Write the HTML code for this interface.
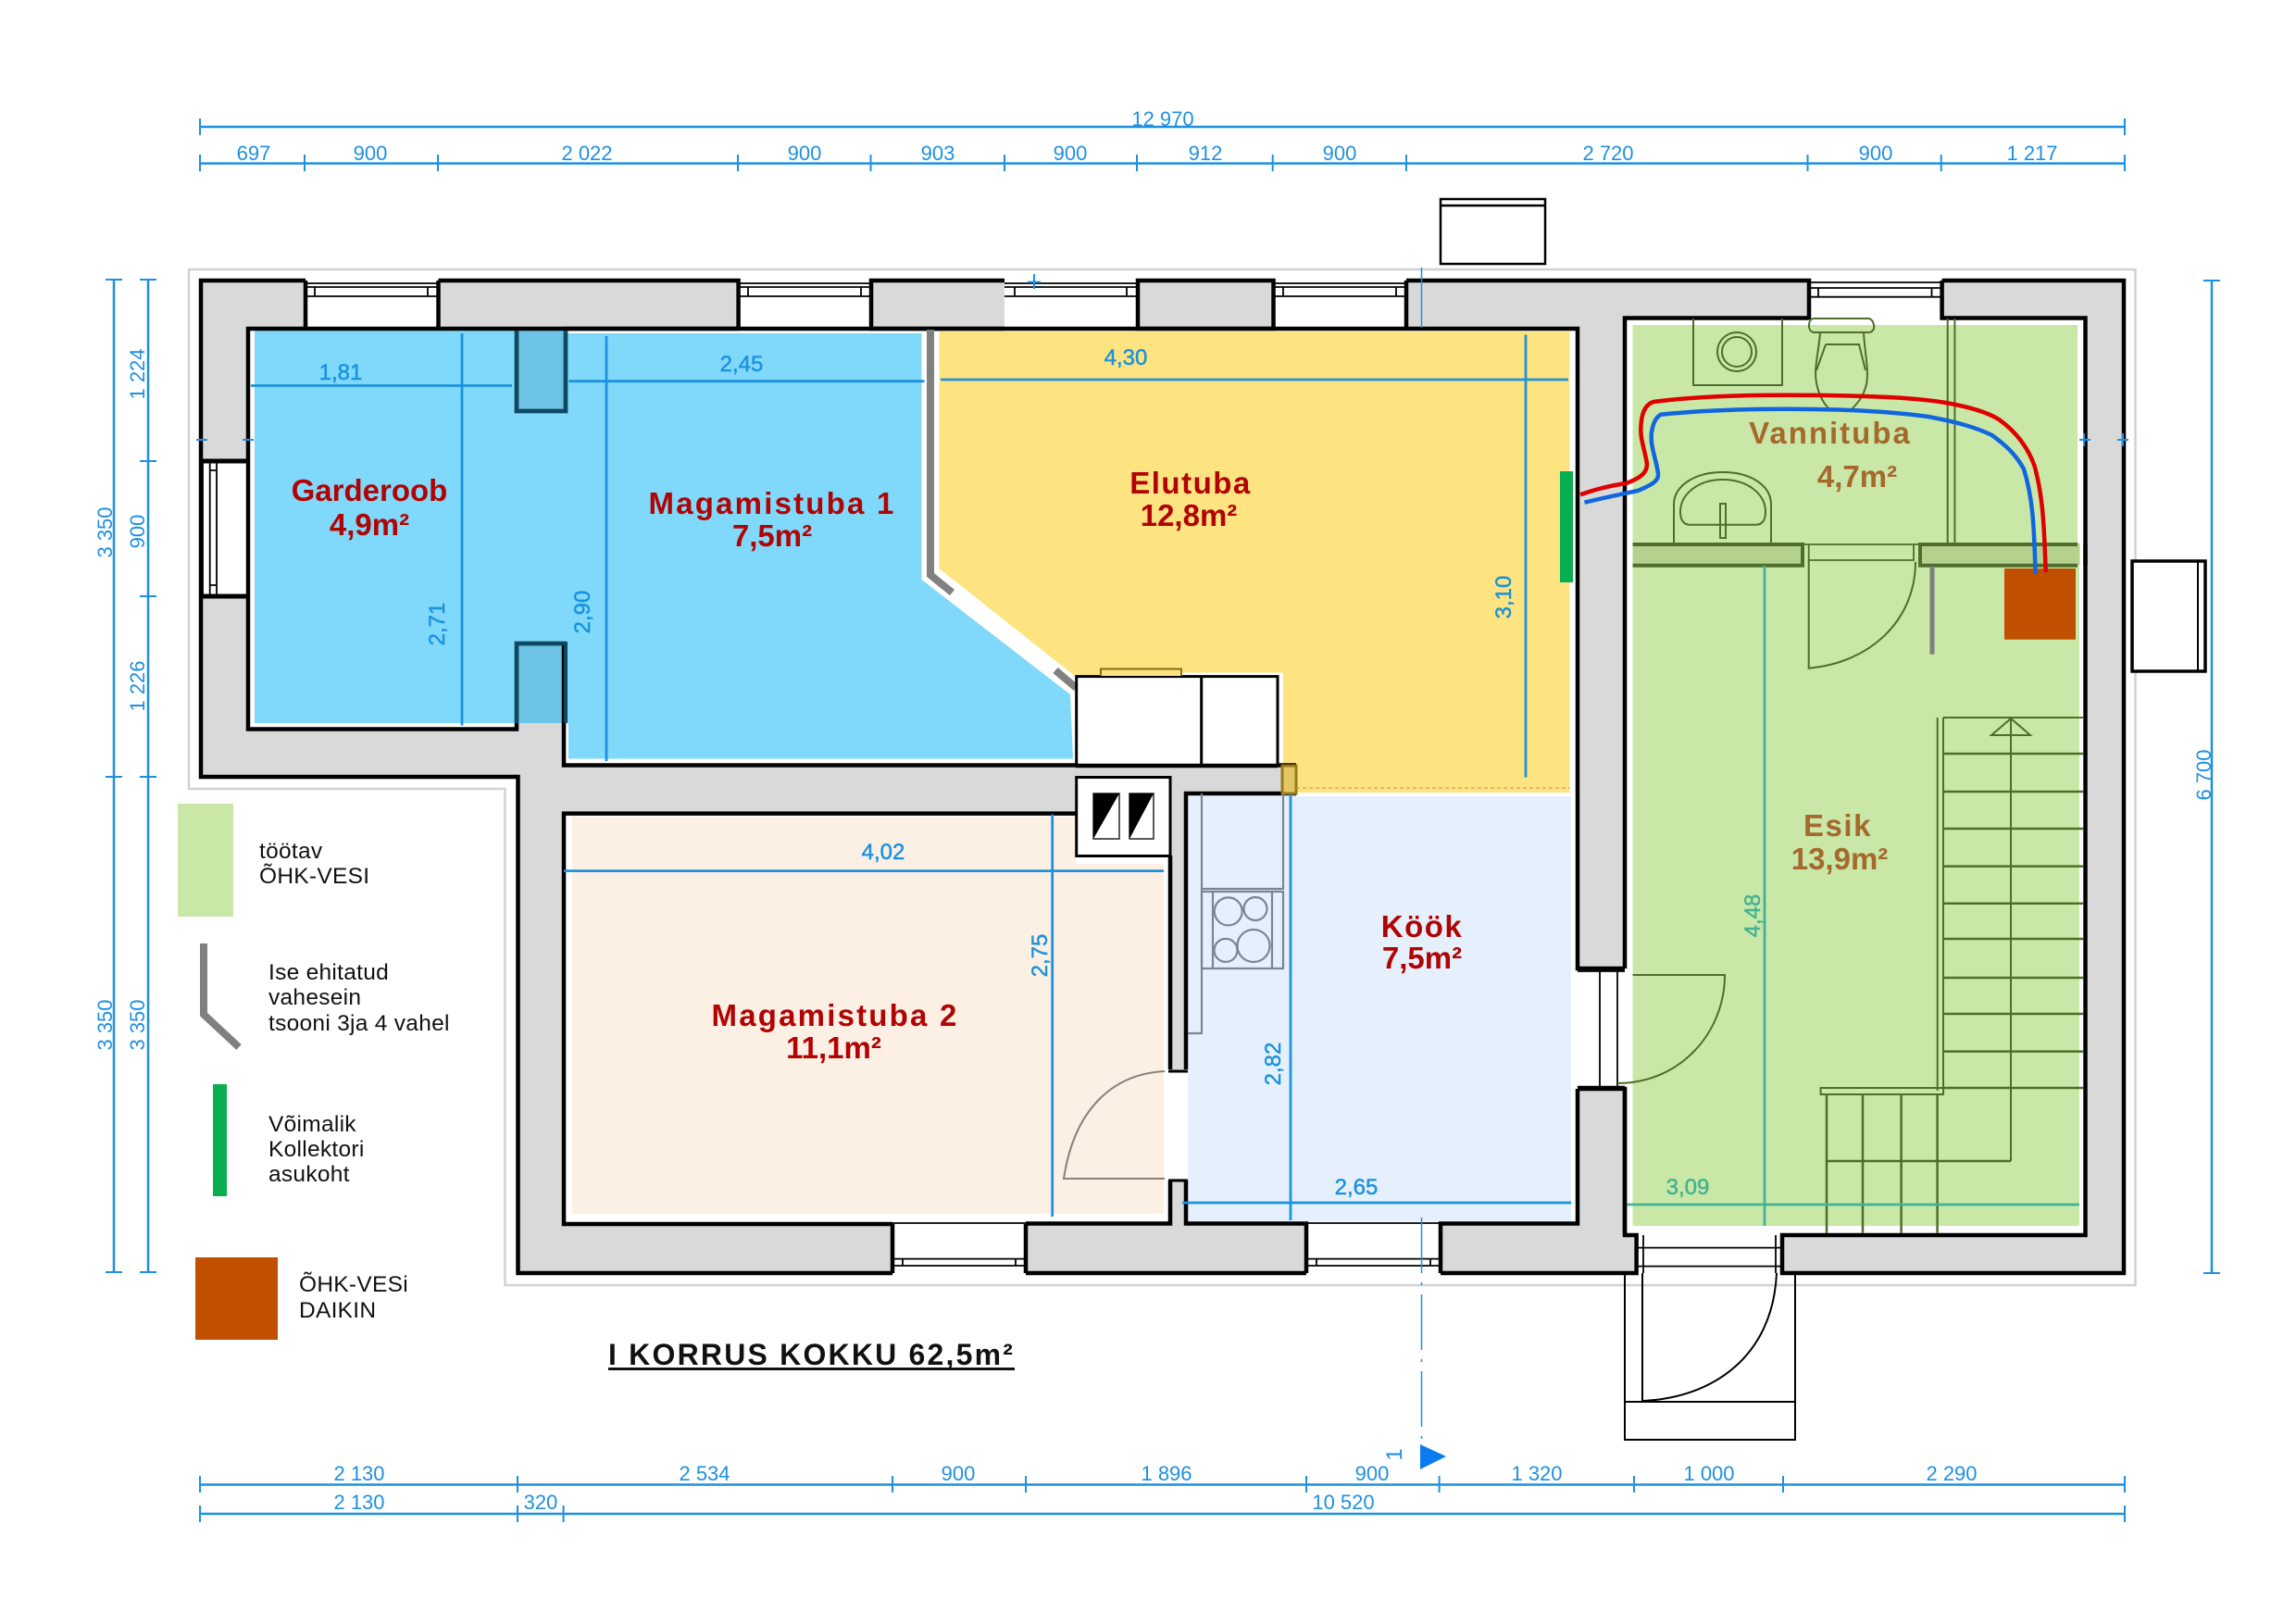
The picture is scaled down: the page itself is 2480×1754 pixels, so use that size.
<!DOCTYPE html>
<html><head><meta charset="utf-8"><title>I korrus</title>
<style>
html,body{margin:0;padding:0;background:#fff}
svg{display:block}
text{font-family:"Liberation Sans",sans-serif}
.d{font-size:22px;fill:#1f90e0;text-anchor:middle}
.r{font-size:24px;fill:#1b93dd;text-anchor:middle;stroke:#1b93dd;stroke-width:.5px}
.t{font-size:24px;fill:#45b293;text-anchor:middle;stroke:#45b293;stroke-width:.5px}
.n{font-size:33px;font-weight:bold;fill:#b00404;text-anchor:middle}
.b{font-size:33px;font-weight:bold;fill:#a5692c;text-anchor:middle}
.l{font-size:24.5px;fill:#111;letter-spacing:.28px}
</style></head><body>
<svg xmlns="http://www.w3.org/2000/svg" width="2480" height="1754" viewBox="0 0 2480 1754">
<rect width="2480" height="1754" fill="#fff"/>
<!-- site outline -->
<path d="M204 291H2306.500V1388H545.500V852H204Z" fill="#fff" stroke="#d2d2d2" stroke-width="2.500"/>
<!-- wall mass -->
<path d="M217 303H2294V1375H559.500V839H217Z" fill="#d9d9d9"/>
<!-- interiors white -->
<path d="M268 355H558V444H611V355H1704V1046H1755V343.500H2252.500V1334H1925V1375H1767.600V1334H1755V1176H1704V1321.500H1281V857H1400V826H609V695H558V787.500H268Z" fill="#fff"/>
<rect x="609" y="878.600" width="655" height="443.400" fill="#fff"/>
<rect x="1264" y="1157" width="17" height="116" fill="#fff"/>
<rect x="1704" y="1049" width="51" height="125" fill="#fff"/>
<!-- window openings -->
<g fill="#fff">
<rect x="330" y="303" width="143.500" height="53"/><rect x="797.600" y="303" width="143.400" height="53"/><rect x="1085" y="303" width="144" height="53"/><rect x="1375.500" y="303" width="143.500" height="53"/><rect x="1954" y="303" width="143.600" height="42"/>
<rect x="217" y="498" width="52" height="146"/>
<rect x="964" y="1321" width="144" height="54"/><rect x="1411" y="1321" width="145" height="54"/>
</g>
<!-- room colours -->
<path d="M275 357H558V444H611V360H995.500V626L1156 750L1159 819.500H614V781H275Z" fill="#80d8fa"/>
<path d="M1014.500 358H1695.500V856H1400V826H1386V726.500H1190V731H1162L1014.500 614Z" fill="#fee381"/>
<path d="M1162 731H1380.500V826H1162Z" fill="#fff"/>
<path d="M1283 860H1697V1319H1283Z" fill="#e6f0fd"/>
<path d="M618 882H1162V933H1257V1311H618Z" fill="#fcefe4"/>
<rect x="1763.500" y="351" width="480.500" height="235.700" fill="#c9e7a7"/>
<rect x="1763.500" y="610.700" width="482.500" height="713.300" fill="#c9e7a7"/>
<rect x="1763.500" y="586.700" width="483" height="24" fill="#b5d18e"/>
<rect x="1947" y="586.700" width="127" height="24" fill="#c9e7a7"/>
<!-- pillars -->
<rect x="558" y="357" width="53" height="87" fill="#6cc3e6"/>
<rect x="558" y="695" width="53" height="86" fill="#6cc3e6"/>
<!-- black walls -->
<g fill="none" stroke="#000" stroke-width="4.500" stroke-linejoin="miter">
<path d="M330 303H217V839H559.500V1375H964M1108 1375H1411M1556 1375H1767.600V1334H1755V1176"/>
<path d="M1085 303H941V355H1085" stroke-width="4.500"/>
<path d="M473.500 303H797.600V355M473.500 303V355M330 303V355"/>
<path d="M1229 303H1375.500V355H1229Z"/>
<path d="M1519 303H1954V345M1519 303V355M2097.600 303H2294V1375H1925V1334H2252.500V343.500H2097.600V303"/>
<path d="M268 498H217M268 644H217" stroke-width="5"/>
<path d="M797.600 355H268V787.500H558V695H609V826.500H1400"/>
<path d="M558 355V444H611V355H1704V1046H1755" stroke-width="4.500"/>
<path d="M1704 1176H1755V1334"/>
<path d="M1704 1176V1321.500H1556V1375M1411 1375V1321.500H1281V1275M1281 1155V857H1400"/>
<path d="M1755 1046V343.500H1954M1755 610.700V588"/>
<path d="M2252.500 588V610"/>
<path d="M964 1322H609V878.600H1163M964 1322V1375M1108 1322V1375M1108 1321.500H1264V1275M1264 1155V924"/>
</g>
<!-- dark pillar edges -->
<g fill="none" stroke="#0b4a62" stroke-width="4">
<path d="M558 357V444H611V357"/><path d="M558 781V695H611V781"/>
</g>
<!-- bath wall edges -->
<g fill="none" stroke="#4f6d2c" stroke-width="4">
<path d="M1763.500 588H1947V610.700H1763.500"/><path d="M2244 588H2074V610.700H2244"/>
</g>
<path d="M1953.700 588V605H2067V588M1953.700 605H2067M1947 588H2074" fill="none" stroke="#4f6d2c" stroke-width="1.800"/>
<!-- window detail lines -->
<g fill="none" stroke="#000" stroke-width="1.800">
<path d="M330 306H473.500M330 320H473.500M330 310H473.500M340 310V320M462 310V320M330 355H473.500"/>
<path d="M797.600 306H941M797.600 320H941M797.600 310H941M808 310V320M930 310V320M797.600 355H941"/>
<path d="M1085 306H1229M1085 320H1229M1085 310H1229M1096 310V320M1217 310V320M1085 355H1229"/>
<path d="M1375.500 306H1519M1375.500 320H1519M1375.500 310H1519M1386 310V320M1508 310V320M1375.500 355H1519"/>
<path d="M1954 305H2097M1954 320.700H2097M1954 311H2097M1964 311V320.700M2086.500 311V320.700"/>
<path d="M219 498V644M226.700 498V644M234 498V644M226.700 508H234M226.700 632H234"/>
<path d="M964 1321H1108M964 1359.600H1108M964 1367H1108M975 1359.600V1367M1097 1359.600V1367"/>
<path d="M1411 1321H1556M1411 1359.600H1556M1411 1367H1556M1422 1359.600V1367M1545 1359.600V1367"/>
<path d="M1767.600 1347.600H1925M1767.600 1367.600H1925M1775 1334V1375M1918 1334V1375"/>
<path d="M1728 1049V1174M1747 1049V1174M1704 1049H1755M1704 1173.600H1755"/>
</g>
<!-- self-built partition -->
<g fill="none" stroke="#808080" stroke-width="8">
<path d="M1005 356V621L1028.500 640"/><path d="M1140 724L1162.500 743"/>
</g>
<!-- kitchen block / flues -->
<g fill="#fff" stroke="#000" stroke-width="3">
<rect x="1162.700" y="730.600" width="217.300" height="96"/>
<rect x="1162.700" y="839.500" width="101.300" height="85"/>
</g>
<path d="M1297.700 730.600V826" stroke="#000" stroke-width="3"/>
<path d="M1189 730V722.500H1276V730" fill="#fee381" stroke="#8a6d10" stroke-width="2"/>
<path d="M1162 827H1380" stroke="#000" stroke-width="4.500"/>
<rect x="1181" y="857" width="28" height="49" fill="#fff" stroke="#222" stroke-width="1.500"/>
<path d="M1181 857H1209L1181 906Z" fill="#000"/>
<rect x="1220" y="857" width="26" height="49" fill="#fff" stroke="#222" stroke-width="1.500"/>
<path d="M1220 857H1246L1220 906Z" fill="#000"/>
<rect x="1385" y="827" width="15" height="30" fill="#e3c767" stroke="#9a7a16" stroke-width="3"/>
<path d="M1400 851H1696" stroke="#b99a44" stroke-width="1" stroke-dasharray="4 3"/>
<!-- kitchen furniture -->
<g fill="none" stroke="#7a8595" stroke-width="2.200">
<path d="M1298 857V1116H1283M1298 960H1386V857"/>
<rect x="1298" y="963" width="88" height="83"/>
<path d="M1310 963V1046M1374 963V1046"/>
<circle cx="1326.700" cy="984.400" r="15"/><circle cx="1356" cy="981.500" r="12.500"/>
<circle cx="1324" cy="1026.400" r="12.500"/><circle cx="1354" cy="1021.500" r="17.500"/>
</g>
<!-- bedroom door -->
<g fill="none" stroke="#8b817a" stroke-width="2">
<path d="M1258 1157C1200 1160 1160 1200 1149 1273H1258"/>
</g>
<path d="M1262 1157H1283M1262 1275H1283" stroke="#000" stroke-width="3"/>
<!-- bathroom fixtures -->
<g fill="none" stroke="#4f6d2c" stroke-width="2">
<path d="M1829 344V416H1925V344"/>
<circle cx="1876" cy="380" r="21"/><circle cx="1876" cy="380" r="16"/>
<path d="M1954 352C1954 344 1958 344 1960 344H2018C2022 344 2025 350 2024 355C2022 359 2020 359 2018 359H1960C1956 359 1954 356 1954 352Z"/>
<path d="M1966 359C1964 385 1958 400 1963 418C1966 430 1972 438 1976 442H2000C2006 436 2013 428 2016 415C2019 400 2014 380 2013 359"/>
<path d="M1972 372H2008L2015 400M1972 372L1962 400"/>
<path d="M1808 586.700V545C1808 525 1830 510 1860.700 510C1892 510 1913 525 1913 545V586.700"/>
<path d="M1815 553C1815 533 1835 518 1860.700 518C1887 518 1907 533 1907 553C1907 562 1903 566.700 1897 566.700H1825C1819 566.700 1815 562 1815 553Z"/>
<path d="M1858 544H1864V581H1858Z"/>
<path d="M2103.700 344V588M2111.400 344V588"/>
<path d="M1953.700 605V721.700C2020 716 2069 670 2069 606.700"/>
<path d="M1763.500 1053H1863C1863 1115 1815 1170 1747 1170"/>
<path d="M2092.700 775V1178M2099 775V1178M2099 775H2250M2172 775V1254M2172 776L2151 794H2193Z"/>
<path d="M2099 814H2250M2099 855H2250M2099 895H2250M2099 935.600H2250M2099 975.700H2250M2099 1014H2250M2099 1056H2250M2099 1095H2250M2099 1135.600H2250M2099 1175H2250" stroke-width="2.500"/>
<rect x="1966.600" y="1175" width="132.400" height="7"/>
<path d="M1973 1182V1332M2012 1182V1332M2053.600 1182V1332M2092.600 1182V1332M1973 1254H2172" stroke-width="2.500"/>
</g>
<rect x="2084.500" y="611.700" width="5" height="95" fill="#808080"/>
<rect x="2165" y="614" width="77" height="76.700" fill="#c05000"/>
<rect x="1685" y="509" width="14" height="120" fill="#08ae50"/>
<!-- pipes -->
<path d="M1707 534.300C1730 526 1745 524 1757.400 521.700C1772 516 1781 510 1778.500 498C1775 480 1771 472 1772.700 456.700C1774 442 1780 436 1786 434C1830 428 1880 426.700 1929.600 426.700C1990 426.700 2060 428 2101.800 435C2130 440 2148 446 2159 453C2180 468 2191 485 2197.500 503C2208 540 2208 580 2209.800 618" fill="none" stroke="#e00000" stroke-width="4.500"/>
<path d="M1711.500 542.700C1735 537 1755 533 1769 530C1783 524 1792 520 1791 511.700C1789 495 1782 482 1784 466.700C1786 455 1789 451 1793.800 447.700C1840 443 1890 441.700 1929.600 441.700C1985 441.700 2040 444 2082.700 450C2115 456 2135 462 2151.600 470C2168 482 2178 492 2186 506.700C2198 545 2197 585 2198.700 620" fill="none" stroke="#1166e0" stroke-width="4.500"/>
<!-- room dimension lines -->
<g fill="none" stroke="#1b93dd" stroke-width="2.800">
<path d="M271 416.500H553M499 360V783.500M614.500 411.700H998.600M655 363V822M1016 410H1694M1648 361.600V839.600"/>
<path d="M609 940.600H1257M1136.700 879.500V1314M1394 858V1318M1277 1299H1697"/>
</g>
<path d="M1906 611V1324M1757.600 1301H2246" fill="none" stroke="#45b293" stroke-width="2.800"/>
<!-- external dimension lines -->
<g fill="none" stroke="#1f90e0" stroke-width="2.500">
<path d="M216 137H2295M216 176.500H2295"/>
<path d="M216 1603.500H2295M216 1635H2295"/>
<path d="M123 302V1374M160 302V1374M2389 303V1375"/>
</g>
<g fill="none" stroke="#1f90e0" stroke-width="2">
<path d="M216 128v18M2295 128v18"/>
<path d="M216 167v18M329 167v18M473 167v18M797 167v18M940.500 167v18M1085 167v18M1228 167v18M1374.700 167v18M1519 167v18M1952.500 167v18M2096.700 167v18M2295 167v18"/>
<path d="M216 1594v18M559 1594v18M964 1594v18M1108 1594v18M1411 1594v18M1554.600 1594v18M1765 1594v18M1926 1594v18M2295 1594v18"/>
<path d="M216 1626v18M559 1626v18M608.600 1626v18M2295 1626v18"/>
<path d="M114 302h18M114 839h18M114 1374h18"/>
<path d="M151 302h18M151 498h18M151 644h18M151 839h18M151 1374h18"/>
<path d="M2380 303h18M2380 1375h18"/>
<path d="M1110 304.600h14M1117 296v16M2246 475h12M2287 475h12M2293 468v14M2251 468v14M212 475h12M262 475h12"/>
</g>
<!-- section line -->
<g fill="none" stroke="#1f90e0" stroke-width="1.500">
<path d="M1535.500 289V354"/>
<path d="M1535.500 1315V1560" stroke-dasharray="60 10 3 10"/>
</g>
<path d="M1534 1560L1562 1573L1534 1587Z" fill="#0b7cf0"/>
<text class="d" transform="translate(1514 1571) rotate(-90)" text-anchor="middle" style="font-size:24px">1</text>
<!-- outside objects -->
<g fill="#fff" stroke="#000" stroke-width="2.500">
<rect x="1556" y="215" width="113" height="70"/>
<path d="M1556 222H1669" fill="none"/>
<rect x="2303" y="606" width="79" height="119" stroke-width="3.500"/>
<path d="M2374 606V725" fill="none" stroke-width="2"/>
</g>
<g fill="none" stroke="#000" stroke-width="2">
<path d="M1755 1375V1555H1939V1375M1755 1514H1939"/>
<path d="M1774 1375V1513C1850 1510 1915 1465 1919 1375"/>
</g>
<!-- dimensions text -->
<g>
<text class="d" x="1256" y="136">12 970</text>
<text class="d" x="274" y="173">697</text><text class="d" x="400" y="173">900</text><text class="d" x="634" y="173">2 022</text><text class="d" x="869" y="173">900</text><text class="d" x="1013" y="173">903</text><text class="d" x="1156" y="173">900</text><text class="d" x="1302" y="173">912</text><text class="d" x="1447" y="173">900</text><text class="d" x="1737" y="173">2 720</text><text class="d" x="2026" y="173">900</text><text class="d" x="2195" y="173">1 217</text>
<text class="d" x="388" y="1599">2 130</text><text class="d" x="761" y="1599">2 534</text><text class="d" x="1035" y="1599">900</text><text class="d" x="1260" y="1599">1 896</text><text class="d" x="1482" y="1599">900</text><text class="d" x="1660" y="1599">1 320</text><text class="d" x="1846" y="1599">1 000</text><text class="d" x="2108" y="1599">2 290</text>
<text class="d" x="388" y="1630">2 130</text><text class="d" x="584" y="1630">320</text><text class="d" x="1451" y="1630">10 520</text>
<text class="d" transform="translate(121 575) rotate(-90)">3 350</text>
<text class="d" transform="translate(121 1107) rotate(-90)">3 350</text>
<text class="d" transform="translate(156 404) rotate(-90)">1 224</text>
<text class="d" transform="translate(156 574) rotate(-90)">900</text>
<text class="d" transform="translate(156 741) rotate(-90)">1 226</text>
<text class="d" transform="translate(156 1107) rotate(-90)">3 350</text>
<text class="d" transform="translate(2388 837) rotate(-90)">6 700</text>
<text class="r" x="368" y="410">1,81</text>
<text class="r" x="801" y="401">2,45</text>
<text class="r" x="1216" y="394">4,30</text>
<text class="r" x="954" y="928">4,02</text>
<text class="r" x="1465" y="1290">2,65</text>
<text class="t" x="1823" y="1290">3,09</text>
<text class="r" transform="translate(480 674) rotate(-90)">2,71</text>
<text class="r" transform="translate(637 661) rotate(-90)">2,90</text>
<text class="r" transform="translate(1632 645) rotate(-90)">3,10</text>
<text class="r" transform="translate(1131 1032) rotate(-90)">2,75</text>
<text class="r" transform="translate(1383 1149) rotate(-90)">2,82</text>
<text class="t" transform="translate(1901 989) rotate(-90)">4,48</text>
</g>
<!-- room names -->
<text class="n" x="399" y="541">Garderoob</text><text class="n" x="399" y="578">4,9m²</text>
<text class="n" x="834" y="555" style="letter-spacing:2.200px">Magamistuba 1</text><text class="n" x="834" y="590">7,5m²</text>
<text class="n" x="1286" y="533" style="letter-spacing:1.500px">Elutuba</text><text class="n" x="1284" y="568">12,8m²</text>
<text class="n" x="902" y="1108" style="letter-spacing:2.200px">Magamistuba 2</text><text class="n" x="900.500" y="1143">11,1m²</text>
<text class="n" x="1536" y="1012" style="letter-spacing:1.500px">Köök</text><text class="n" x="1536" y="1046">7,5m²</text>
<text class="b" x="1977" y="479" style="letter-spacing:2px">Vannituba</text><text class="b" x="2006" y="526">4,7m²</text>
<text class="b" x="1985" y="903" style="letter-spacing:1.500px">Esik</text><text class="b" x="1987" y="939">13,9m²</text>
<!-- legend -->
<rect x="192" y="868" width="60" height="122" fill="#c9e7a7"/>
<text class="l" x="280" y="927">töötav</text><text class="l" x="280" y="954">ÕHK-VESI</text>
<path d="M220 1019V1095.600L258 1131" fill="none" stroke="#808080" stroke-width="8"/>
<text class="l" x="290" y="1058">Ise ehitatud</text><text class="l" x="290" y="1085">vahesein</text><text class="l" x="290" y="1113">tsooni 3ja 4 vahel</text>
<rect x="230" y="1171" width="15" height="121" fill="#08ae50"/>
<text class="l" x="290" y="1222">Võimalik</text><text class="l" x="290" y="1249">Kollektori</text><text class="l" x="290" y="1276">asukoht</text>
<rect x="211" y="1358" width="89" height="89" fill="#c05000"/>
<text class="l" x="323" y="1395">ÕHK-VESi</text><text class="l" x="323" y="1423">DAIKIN</text>
<text x="657" y="1474" style="font-size:32px;font-weight:bold;letter-spacing:2.200px;fill:#111">I KORRUS KOKKU 62,5m²</text>
<rect x="657" y="1477" width="439" height="3" fill="#111"/>
</svg>
</body></html>
